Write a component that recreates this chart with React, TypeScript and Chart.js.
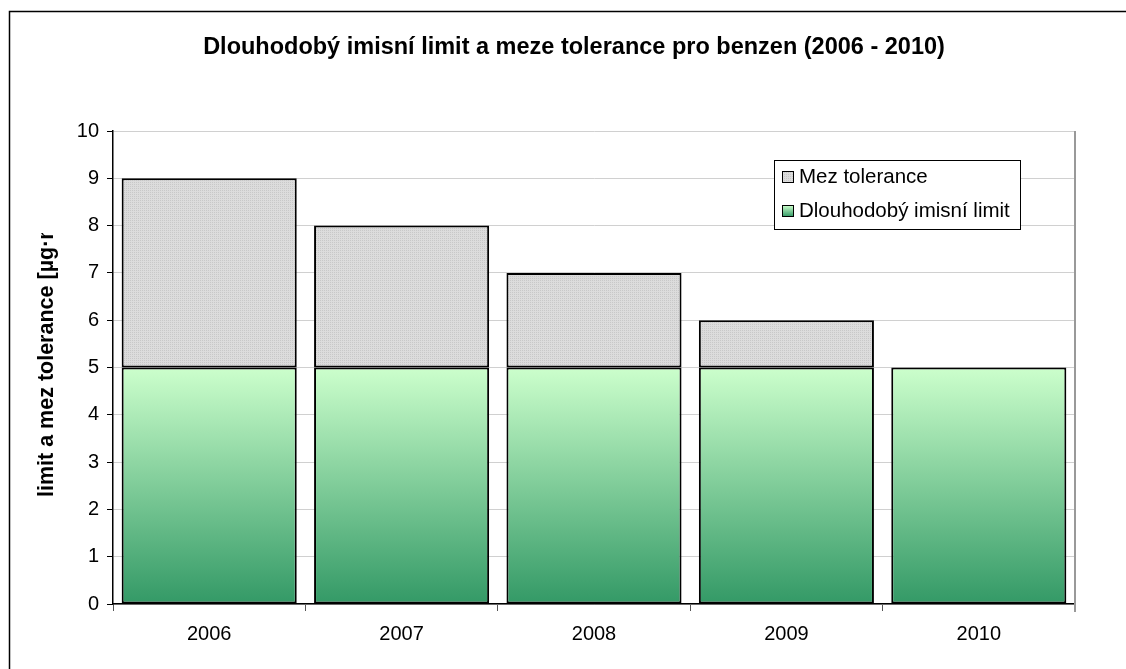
import React, { useEffect, useRef } from "react";
import { Chart, registerables } from "chart.js";

Chart.register(...registerables);

const categories = ["2006", "2007", "2008", "2009", "2010"];
const limitValues = [5, 5, 5, 5, 5];
const toleranceValues = [4, 3, 2, 1, 0];
const yTicks = [0, 1, 2, 3, 4, 5, 6, 7, 8, 9, 10];
const titleText = "Dlouhodobý imisní limit a meze tolerance pro benzen (2006 - 2010)";
const yTitleText = "limit a mez tolerance [µg·m-3]";
const limitLabel = "Dlouhodobý imisní limit";
const toleranceLabel = "Mez tolerance";

const FONT = "'Liberation Sans', Arial, sans-serif";

function makeGrayPattern(): CanvasPattern | string {
  const c = document.createElement("canvas");
  c.width = 2;
  c.height = 2;
  const g = c.getContext("2d");
  if (!g) return "#d6d6d6";
  g.fillStyle = "#dcdcdc";
  g.fillRect(0, 0, 2, 2);
  g.fillStyle = "#c8c8c8";
  g.fillRect(0, 0, 1, 1);
  const p = g.createPattern(c, "repeat");
  return p || "#d6d6d6";
}

export default function App() {
  const ref = useRef<HTMLCanvasElement | null>(null);

  useEffect(() => {
    if (!ref.current) return;
    const grayPattern = makeGrayPattern();

    const greenFill = (ctx: any) => {
      const chart = ctx.chart;
      const area = chart.chartArea;
      if (!area) return "#88cc99";
      const y = chart.scales.y;
      const g = chart.ctx.createLinearGradient(0, y.getPixelForValue(5), 0, y.getPixelForValue(0));
      g.addColorStop(0, "#ccffcc");
      g.addColorStop(1, "#339966");
      return g;
    };

    const decor = {
      id: "decor",
      beforeDraw(chart: any) {
        const c = chart.ctx;
        c.save();
        c.fillStyle = "#ffffff";
        c.fillRect(0, 0, chart.width, chart.height);
        c.strokeStyle = "#000000";
        c.lineWidth = 1.5;
        c.strokeRect(9.5, 11.5, 1300, 1000);
        c.restore();
      },
      afterDraw(chart: any) {
        const c = chart.ctx;
        const a = chart.chartArea;
        c.save();
        // right border of plot area
        c.strokeStyle = "#999999";
        c.lineWidth = 2;
        c.beginPath();
        c.moveTo(a.right, a.top);
        c.lineTo(a.right, a.bottom + 8);
        c.stroke();

        // title
        c.fillStyle = "#000";
        c.font = `bold 23.5px ${FONT}`;
        c.textAlign = "center";
        c.textBaseline = "middle";
        c.fillText(titleText, 574, 48);

        // y axis title (clipped like the original)
        c.save();
        c.beginPath();
        c.rect(0, 233, 110, 400);
        c.clip();
        c.translate(47, 497);
        c.rotate(-Math.PI / 2);
        c.font = `bold 21.5px ${FONT}`;
        c.textAlign = "left";
        c.textBaseline = "middle";
        c.fillText(yTitleText, 0, 0);
        c.restore();

        // legend
        const lx = 774.5, ly = 160.5, lw = 246, lh = 69;
        c.fillStyle = "#fff";
        c.fillRect(lx, ly, lw, lh);
        c.strokeStyle = "#000";
        c.lineWidth = 1;
        c.strokeRect(lx, ly, lw, lh);
        const items = [
          { label: toleranceLabel, fill: grayPattern, cy: 177 },
          { label: limitLabel, fill: null, cy: 211 },
        ];
        items.forEach((it) => {
          const mx = 782.5, my = it.cy - 5.5, ms = 11;
          if (it.fill) {
            c.fillStyle = it.fill as any;
          } else {
            const g = c.createLinearGradient(0, my, 0, my + ms);
            g.addColorStop(0, "#ccffcc");
            g.addColorStop(1, "#339966");
            c.fillStyle = g;
          }
          c.fillRect(mx, my, ms, ms);
          c.strokeStyle = "#000";
          c.lineWidth = 1;
          c.strokeRect(mx, my, ms, ms);
          c.fillStyle = "#000";
          c.font = `20.5px ${FONT}`;
          c.textAlign = "left";
          c.textBaseline = "middle";
          c.fillText(it.label, 799, it.cy);
        });
        c.restore();
      },
    };

    const chart = new Chart(ref.current, {
      type: "bar",
      data: {
        labels: categories,
        datasets: [
          {
            label: limitLabel,
            data: limitValues,
            backgroundColor: greenFill as any,
            borderColor: "#000",
            borderWidth: 2,
            borderSkipped: false,
            stack: "s",
          },
          {
            label: toleranceLabel,
            data: toleranceValues,
            backgroundColor: grayPattern as any,
            borderColor: "#000",
            borderWidth: 2,
            borderSkipped: false,
            stack: "s",
          },
        ],
      },
      options: {
        responsive: false,
        animation: false,
        layout: { padding: { top: 131, right: 51, left: 0, bottom: 0 } },
        plugins: {
          legend: { display: false },
          title: { display: false },
          tooltip: { enabled: false },
        },
        datasets: { bar: { categoryPercentage: 1, barPercentage: 0.91 } },
        scales: {
          x: {
            stacked: true,
            offset: true,
            grid: {
              offset: true,
              drawOnChartArea: false,
              drawTicks: true,
              tickLength: 7,
              tickColor: "#555",
            },
            border: { color: "#000", width: 1.5 },
            ticks: {
              color: "#000",
              font: { family: FONT, size: 20 },
              padding: 11,
            },
            afterFit: (s: any) => {
              s.height = 65;
            },
          },
          y: {
            stacked: true,
            min: 0,
            max: 10,
            afterBuildTicks: (s: any) => {
              s.ticks = yTicks.map((v) => ({ value: v }));
            },
            grid: {
              color: "#d0d0d0",
              lineWidth: 1,
              tickColor: "#000",
              tickLength: 6,
            },
            border: { color: "#000", width: 1.5 },
            ticks: {
              color: "#000",
              font: { family: FONT, size: 20 },
              padding: 8,
            },
            afterFit: (s: any) => {
              s.width = 113;
            },
          },
        },
      },
      plugins: [decor],
    });
    return () => chart.destroy();
  }, []);

  return (
    <div style={{ position: "absolute", left: 0, top: 0, width: 1126, height: 669 }}>
      <canvas ref={ref} width={1126} height={669} style={{ display: "block" }} />
    </div>
  );
}
